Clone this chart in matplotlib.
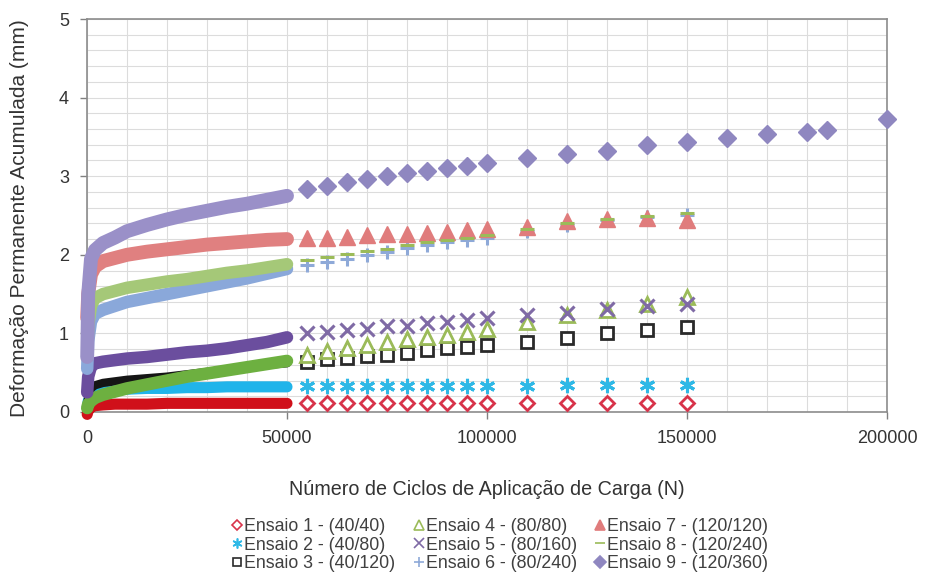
import matplotlib
matplotlib.use("Agg")
import matplotlib.pyplot as plt
from matplotlib.ticker import MultipleLocator
from matplotlib.lines import Line2D

plt.rcParams['font.family'] = ['Liberation Sans', 'DejaVu Sans']

# ---------------- data ----------------
labels = ["Ensaio 1 - (40/40)", "Ensaio 2 - (40/80)", "Ensaio 3 - (40/120)",
          "Ensaio 4 - (80/80)", "Ensaio 5 - (80/160)", "Ensaio 6 - (80/240)",
          "Ensaio 7 - (120/120)", "Ensaio 8 - (120/240)", "Ensaio 9 - (120/360)"]

# dense early readings (cycles)
n_dense = [50, 300, 1000, 2000, 4000, 7000, 10000, 15000, 20000, 25000,
           30000, 35000, 40000, 45000, 50000]
d1 = [-0.03, 0.02, 0.06, 0.08, 0.09, 0.10, 0.10, 0.10, 0.11, 0.11, 0.11, 0.11, 0.11, 0.11, 0.11]
d2 = [0.05, 0.14, 0.20, 0.24, 0.27, 0.28, 0.29, 0.30, 0.30, 0.31, 0.31, 0.32, 0.32, 0.32, 0.32]
d3 = [0.08, 0.20, 0.30, 0.34, 0.37, 0.39, 0.41, 0.43, 0.45, 0.48, 0.51, 0.54, 0.57, 0.60, 0.62]
d4 = [0.05, 0.10, 0.14, 0.18, 0.22, 0.26, 0.30, 0.35, 0.40, 0.45, 0.49, 0.53, 0.57, 0.61, 0.65]
d5 = [0.25, 0.45, 0.58, 0.62, 0.64, 0.66, 0.68, 0.70, 0.73, 0.76, 0.78, 0.81, 0.85, 0.89, 0.95]
d6 = [0.55, 0.90, 1.15, 1.25, 1.30, 1.35, 1.40, 1.45, 1.50, 1.55, 1.60, 1.65, 1.70, 1.76, 1.82]
d7 = [1.20, 1.50, 1.75, 1.85, 1.92, 1.96, 2.00, 2.04, 2.07, 2.10, 2.13, 2.15, 2.17, 2.19, 2.20]
d8 = [0.70, 1.10, 1.35, 1.45, 1.50, 1.54, 1.58, 1.62, 1.66, 1.69, 1.73, 1.77, 1.80, 1.84, 1.88]
d9 = [0.70, 1.50, 1.95, 2.06, 2.15, 2.22, 2.30, 2.38, 2.45, 2.51, 2.56, 2.61, 2.65, 2.70, 2.75]

# sparse later readings (cycles)
n_sparse = [55000, 60000, 65000, 70000, 75000, 80000, 85000, 90000, 95000, 100000,
            110000, 120000, 130000, 140000, 150000]
n_sparse9 = [55000, 60000, 65000, 70000, 75000, 80000, 85000, 90000, 95000, 100000,
             110000, 120000, 130000, 140000, 150000, 160000, 170000, 180000, 185000, 200000]
s1 = [0.11, 0.11, 0.11, 0.11, 0.11, 0.11, 0.11, 0.11, 0.11, 0.11, 0.11, 0.11, 0.11, 0.11, 0.11]
s2 = [0.33, 0.33, 0.33, 0.33, 0.33, 0.33, 0.33, 0.33, 0.33, 0.33, 0.33, 0.34, 0.34, 0.34, 0.34]
s3 = [0.64, 0.67, 0.69, 0.71, 0.73, 0.75, 0.79, 0.81, 0.83, 0.85, 0.89, 0.94, 1.00, 1.04, 1.08]
s4 = [0.72, 0.77, 0.82, 0.85, 0.89, 0.93, 0.96, 0.98, 1.02, 1.05, 1.15, 1.24, 1.30, 1.38, 1.46]
s5 = [1.00, 1.02, 1.04, 1.06, 1.09, 1.10, 1.13, 1.15, 1.17, 1.19, 1.23, 1.26, 1.31, 1.35, 1.37]
s6 = [1.87, 1.91, 1.95, 2.00, 2.04, 2.09, 2.12, 2.16, 2.19, 2.22, 2.30, 2.38, 2.44, 2.48, 2.51]
s7 = [2.22, 2.22, 2.23, 2.25, 2.26, 2.27, 2.28, 2.29, 2.31, 2.33, 2.35, 2.43, 2.46, 2.47, 2.44]
s8 = [1.94, 1.97, 2.01, 2.05, 2.08, 2.12, 2.16, 2.19, 2.22, 2.25, 2.33, 2.40, 2.45, 2.49, 2.53]
s9 = [2.84, 2.88, 2.92, 2.96, 3.00, 3.04, 3.07, 3.10, 3.13, 3.17, 3.23, 3.28, 3.32, 3.40,
      3.43, 3.49, 3.54, 3.56, 3.59, 3.73]

x_ticks = [0, 50000, 100000, 150000, 200000]
y_ticks = [0, 1, 2, 3, 4, 5]

# ---------------- styles ----------------
dense = [d1, d2, d3, d4, d5, d6, d7, d8, d9]
sparse = [s1, s2, s3, s4, s5, s6, s7, s8, s9]
sparse_n = [n_sparse] * 8 + [n_sparse9]
band_colors = ['#D0101A', '#20B4EA', '#151515', '#6DB040', '#6B4E9E',
               '#8AA8DA', '#E08080', '#A5C878', '#9A90C8']
mk_colors = ['#D8334A', '#2EB8E6', '#2A2A2A', '#9BBB59', '#7F6AA5',
             '#8EA9D8', '#E07C7C', '#9BBB59', '#8F87C0']
markers = ['D', (6, 2, 0), 's', '^', 'x', '+', '^', '_', 'D']
filled = [False, True, False, False, True, True, True, True, True]
msizes = [7, 11, 8.5, 10, 10.5, 10.5, 11, 10, 9.5]
band_lw = [8, 8, 6, 9, 9, 9, 10, 9, 10]

fig = plt.figure(figsize=(9.26, 5.79), dpi=100)
ax = fig.add_axes([87 / 926, 1 - 412 / 579, 800 / 926, 393 / 579])

for i in range(9):
    ax.plot(n_dense, dense[i], color=band_colors[i], lw=band_lw[i],
            solid_capstyle='round', solid_joinstyle='round', zorder=3 + i, clip_on=False)
    thin = markers[i] in ('x', '+', '_') or isinstance(markers[i], tuple)
    if filled[i]:
        ax.plot(sparse_n[i], sparse[i], ls='none', marker=markers[i], ms=msizes[i],
                color=mk_colors[i], mec=mk_colors[i], mew=2.2 if thin else 1,
                zorder=3 + i, clip_on=False)
    else:
        ax.plot(sparse_n[i], sparse[i], ls='none', marker=markers[i], ms=msizes[i],
                mfc='white', mec=mk_colors[i], mew=2, zorder=3 + i, clip_on=False)

ax.set_xlim(0, 200000)
ax.set_ylim(0, 5)
ax.set_xticks(x_ticks)
ax.set_yticks(y_ticks)
ax.set_xticklabels([str(v) for v in x_ticks])
ax.set_yticklabels([str(v) for v in y_ticks])
ax.xaxis.set_minor_locator(MultipleLocator(10000))
ax.yaxis.set_minor_locator(MultipleLocator(0.2))
ax.grid(which='both', color='#DCDCDC', lw=0.8)
ax.set_axisbelow(True)
ax.tick_params(which='minor', length=0)
ax.tick_params(which='major', direction='out', length=5, width=1, color='#808080',
               labelsize=13, labelcolor='#333333', pad=8)
for sp in ax.spines.values():
    sp.set_color('#8C8C8C')
    sp.set_linewidth(1.2)

ax.set_xlabel("Número de Ciclos de Aplicação de Carga (N)", fontsize=14.2, color='#333333', labelpad=24)
fig.text(20 / 926, 1 - 218 / 579, "Deformação Permanente Acumulada (mm)", rotation=90,
         fontsize=15, color='#333333', ha='center', va='center')

handles = []
for i in range(9):
    if filled[i]:
        h = Line2D([], [], ls='none', marker=markers[i], ms=msizes[i] * 0.65,
                   color=mk_colors[i], mec=mk_colors[i], mew=1.2)
    else:
        h = Line2D([], [], ls='none', marker=markers[i], ms=msizes[i] * 0.75,
                   mfc='white', mec=mk_colors[i], mew=1.2)
    handles.append(h)
leg = fig.legend(handles, labels, ncol=3, loc='center', bbox_to_anchor=(500 / 926, 1 - 545 / 579),
                 frameon=False, fontsize=12.8, handlelength=0.6, handletextpad=0.1,
                 columnspacing=1.0, labelspacing=0.08, borderpad=0)
for t in leg.get_texts():
    t.set_color('#404040')

fig.savefig("out.png", dpi=100)
